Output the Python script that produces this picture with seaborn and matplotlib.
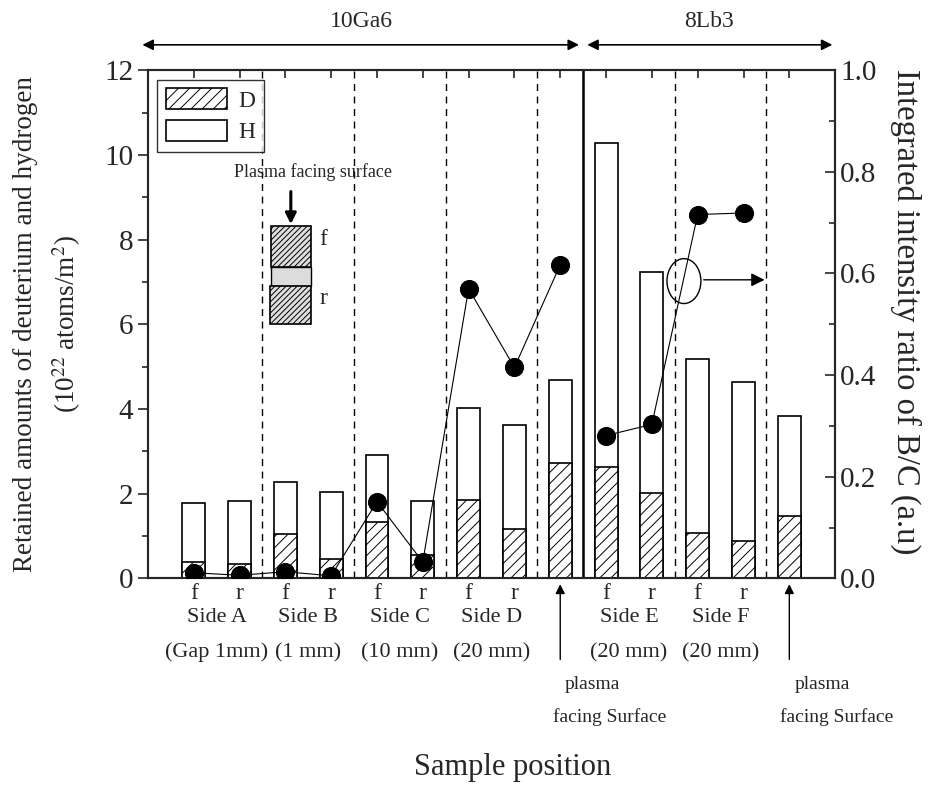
import numpy as np
import pandas as pd
import matplotlib
matplotlib.use('Agg')
import matplotlib.pyplot as plt
import seaborn as sns
from matplotlib.patches import Patch, Rectangle, Ellipse
from matplotlib.ticker import MultipleLocator

# sample positions along the x axis (one bar per sample)
positions = [1, 2, 3, 4, 5, 6, 7, 8, 9, 10, 11, 12, 13, 14]
pos_labels = ['f', 'r', 'f', 'r', 'f', 'r', 'f', 'r', '', 'f', 'r', 'f', 'r', '']
# retained amounts, 10^22 atoms/m^2
total_dh = [1.79, 1.83, 2.27, 2.04, 2.92, 1.82, 4.02, 3.63, 4.68, 10.27, 7.24, 5.17, 4.63, 3.84]
deuterium = [0.38, 0.35, 1.04, 0.46, 1.34, 0.55, 1.85, 1.17, 2.72, 2.62, 2.02, 1.07, 0.88, 1.47]
# B/C integrated intensity ratio (right axis)
bc_pos_1 = [1, 2, 3, 4, 5, 6, 7, 8, 9]
bc_ratio_1 = [0.011, 0.006, 0.013, 0.005, 0.151, 0.032, 0.570, 0.415, 0.617]
bc_pos_2 = [10, 11, 12, 13]
bc_ratio_2 = [0.281, 0.303, 0.716, 0.719]

side_names = ['Side A', 'Side B', 'Side C', 'Side D', 'Side E', 'Side F']
side_gaps = ['(Gap 1mm)', '(1 mm)', '(10 mm)', '(20 mm)', '(20 mm)', '(20 mm)']
side_centers = [1.5, 3.5, 5.5, 7.5, 10.5, 12.5]
dashed_x = [2.5, 4.5, 6.5, 8.5, 11.5, 13.5]
group_split = 9.5

df = pd.DataFrame({'pos': positions, 'total': total_dh, 'D': deuterium})

sns.set_style('ticks')
plt.rcParams['font.family'] = ['Liberation Serif', 'DejaVu Serif']
plt.rcParams['mathtext.fontset'] = 'stix'
plt.rcParams['hatch.linewidth'] = 0.7

fig = plt.figure(figsize=(9.3, 7.89), dpi=100)
ax = fig.add_axes([0.159, 0.267, 0.739, 0.644])

sns.barplot(data=df, x='pos', y='total', native_scale=True, width=0.5, color='white',
            edgecolor='black', linewidth=1.2, errorbar=None, ax=ax, zorder=2)
sns.barplot(data=df, x='pos', y='D', native_scale=True, width=0.5, color='white',
            edgecolor='black', linewidth=1.2, errorbar=None, ax=ax, hatch='///', zorder=3)

for xv in dashed_x:
    ax.axvline(xv, color='black', lw=1.0, ls=(0, (5, 4)), zorder=1)
ax.axvline(group_split, color='black', lw=1.8, zorder=1)

ax.set_xlim(0, 15)
ax.set_ylim(0, 12)
ax.set_xticks(positions)
ax.set_xticklabels(pos_labels, fontsize=17)
ax.set_xlabel('')
ax.yaxis.set_major_locator(MultipleLocator(2))
ax.yaxis.set_minor_locator(MultipleLocator(1))
ax.tick_params(axis='y', which='both', direction='out', labelsize=21, width=1.2)
ax.tick_params(axis='y', which='major', length=7)
ax.tick_params(axis='y', which='minor', length=4)
ax.tick_params(axis='x', which='both', direction='in', top=True, length=6, width=1.2, pad=3)
ax.set_ylabel('Retained amounts of deuterium and hydrogen\n(10$^{22}$ atoms/m$^2$)',
              fontsize=19.5, linespacing=1.5, labelpad=15)
for s in ax.spines.values():
    s.set_linewidth(1.5)

# right axis: B/C ratio
ax2 = ax.twinx()
for xs, ys in [(bc_pos_1, bc_ratio_1), (bc_pos_2, bc_ratio_2)]:
    sns.lineplot(x=xs, y=ys, ax=ax2, color='black', lw=0.8, marker='o', markersize=13,
                 markeredgecolor='black', zorder=5)
ax2.set_ylim(0, 1)
ax2.yaxis.set_major_locator(MultipleLocator(0.2))
ax2.yaxis.set_minor_locator(MultipleLocator(0.1))
ax2.yaxis.set_major_formatter(matplotlib.ticker.FormatStrFormatter('%.1f'))
ax2.tick_params(axis='y', which='both', direction='in', labelsize=21, width=1.2)
ax2.tick_params(axis='y', which='major', length=7)
ax2.tick_params(axis='y', which='minor', length=4)
ax2.set_ylabel('Integrated intensity ratio of B/C (a.u)', fontsize=23.5, rotation=270)
ax2.yaxis.set_label_coords(1.126, 0.525)
for s in ax2.spines.values():
    s.set_linewidth(1.5)

# legend
handles = [Patch(facecolor='white', edgecolor='black', hatch='///', lw=1.2, label='D'),
           Patch(facecolor='white', edgecolor='black', lw=1.2, label='H')]
leg = ax2.legend(handles=handles, loc='upper left', fontsize=17, frameon=True, fancybox=False,
                 handlelength=2.6, handleheight=1.0, borderaxespad=0.4, labelspacing=0.35,
                 handletextpad=0.5, borderpad=0.35)
leg.get_frame().set_edgecolor('black')
leg.get_frame().set_linewidth(1.0)

# sample schematic
ax.text(3.6, 9.6, 'Plasma facing surface', fontsize=13, ha='center', va='center')
ax.annotate('', xy=(3.12, 8.3), xytext=(3.12, 9.2),
            arrowprops=dict(arrowstyle='-|>', color='black', lw=2.2, mutation_scale=16))
ax.add_patch(Rectangle((2.68, 7.35), 0.87, 0.96, facecolor='#dedede', edgecolor='black',
                       hatch='//////', lw=1.2, zorder=4))
ax.add_patch(Rectangle((2.68, 6.91), 0.87, 0.44, facecolor='#dcdcdc', edgecolor='black',
                       lw=1.0, zorder=4))
ax.add_patch(Rectangle((2.66, 6.0), 0.89, 0.91, facecolor='#dedede', edgecolor='black',
                       hatch='//////', lw=1.2, zorder=4))
ax.text(3.75, 8.0, 'f', fontsize=17, ha='left', va='center')
ax.text(3.75, 6.6, 'r', fontsize=17, ha='left', va='center')

# ellipse marking the right-axis series
ax.add_patch(Ellipse((11.7, 7.02), 0.74, 1.06, fill=False, edgecolor='black', lw=1.0, zorder=6))
ax.annotate('', xy=(13.52, 7.05), xytext=(12.07, 7.05),
            arrowprops=dict(arrowstyle='-|>', color='black', lw=1.0, mutation_scale=20))

# group arrows on top
tr = ax.get_xaxis_transform()
ax.annotate('', xy=(-0.18, 1.05), xytext=(9.47, 1.05), xycoords=tr, textcoords=tr,
            arrowprops=dict(arrowstyle='<|-|>', color='black', lw=1.2, mutation_scale=16))
ax.annotate('', xy=(9.53, 1.05), xytext=(15.0, 1.05), xycoords=tr, textcoords=tr,
            arrowprops=dict(arrowstyle='<|-|>', color='black', lw=1.2, mutation_scale=16))
ax.text(4.65, 1.095, '10Ga6', transform=tr, fontsize=17, ha='center', va='center')
ax.text(12.25, 1.095, '8Lb3', transform=tr, fontsize=17, ha='center', va='center')

# side labels below
for xc, nm, gp in zip(side_centers, side_names, side_gaps):
    ax.text(xc, -0.078, nm, transform=tr, fontsize=16, ha='center', va='center')
    ax.text(xc, -0.146, gp, transform=tr, fontsize=16, ha='center', va='center')

for xa, xp, xf in [(9, 9.1, 8.85), (14, 14.12, 13.8)]:
    ax.annotate('', xy=(xa, -0.006), xytext=(xa, -0.165), xycoords=tr, textcoords=tr,
                arrowprops=dict(arrowstyle='-|>', color='black', lw=1.0, mutation_scale=14))
    ax.text(xp, -0.208, 'plasma', transform=tr, fontsize=14, ha='left', va='center')
    ax.text(xf, -0.274, 'facing Surface', transform=tr, fontsize=14, ha='left', va='center')

fig.text(0.551, 0.027, 'Sample position', fontsize=22, ha='center', va='center')

fig.savefig('out.png', dpi=100)
